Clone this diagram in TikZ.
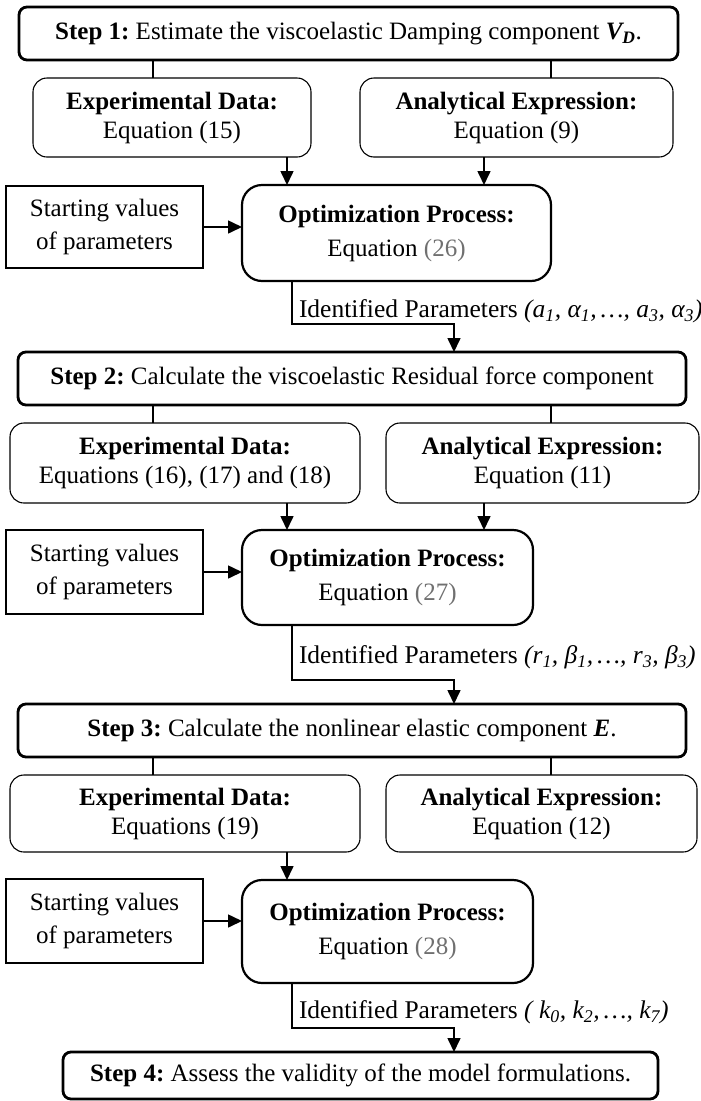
\documentclass[tikz,border=0pt]{standalone}
\usepackage{fontspec}
\setmainfont{Liberation Serif}
\usetikzlibrary{arrows.meta,calc}
\definecolor{eqgray}{RGB}{112,112,112}
\frenchspacing
\begin{document}
\begin{tikzpicture}[x=1pt,y=-1pt,
  every node/.style={font=\fontsize{25}{29}\selectfont, inner sep=0pt, outer sep=0pt},
  stepbox/.style={draw, line width=2.8pt, rounded corners=8pt},
  infobox/.style={draw, line width=1.1pt, rounded corners=14pt, align=center},
  optbox/.style={draw, line width=2.2pt, rounded corners=20pt, align=center},
  startbox/.style={draw, line width=1.8pt, align=center},
  paramlabel/.style={anchor=west, font=\fontsize{25.5}{29}\selectfont},
  link/.style={line width=1.6pt},
  arr/.style={line width=1.6pt, -{Triangle[length=14pt,width=13pt]}},
]
\useasboundingbox (0,0) rectangle (701,1101);

% column positions of the connectors
\coordinate (xs) at (153,0);
\coordinate (xa) at (551,0);
\coordinate (xl) at (287,0);
\coordinate (xr) at (484,0);

% ---------------- Step 1 ----------------
\node[stepbox, minimum width=659pt, minimum height=53pt] (s1) at (348.5,33.5)
  {\textbf{Step 1:} Estimate the viscoelastic Damping component \textbf{\textit{V\textsubscript{D}}}.};
\node[infobox, minimum width=278pt, minimum height=79pt] (e1) at (172,117.5)
  {\textbf{Experimental Data:}\\Equation (15)};
\node[infobox, minimum width=313pt, minimum height=79pt] (a1) at (516.5,117.5)
  {\textbf{Analytical Expression:}\\Equation (9)};
\node[startbox, minimum width=197pt, minimum height=82pt] (st1) at (104.5,227)
  {Starting values\\[4pt]of parameters};
\node[optbox, minimum width=309pt, minimum height=96pt] (o1) at (396.5,233)
  {\textbf{Optimization Process:}\\[5pt]Equation {\color{eqgray}(26)}};
\node[paramlabel] (p1) at (299,311)
  {Identified Parameters {\itshape (a\textsubscript{1}, α\textsubscript{1},\,…, a\textsubscript{3}, α\textsubscript{3})}};
\coordinate (k1) at (292,324);
\coordinate (t1) at (454,324);

% ---------------- Step 2 ----------------
\node[stepbox, minimum width=668pt, minimum height=53pt] (s2) at (352,378.5)
  {\textbf{Step 2:} Calculate the viscoelastic Residual force component};
\node[infobox, minimum width=350pt, minimum height=80pt] (e2) at (185,463)
  {\textbf{Experimental Data:}\\Equations (16), (17) and (18)};
\node[infobox, minimum width=313pt, minimum height=80pt] (a2) at (542.5,463)
  {\textbf{Analytical Expression:}\\Equation (11)};
\node[startbox, minimum width=197pt, minimum height=84pt] (st2) at (104.5,572)
  {Starting values\\[4pt]of parameters};
\node[optbox, minimum width=291pt, minimum height=95pt] (o2) at (387.5,577.5)
  {\textbf{Optimization Process:}\\[5pt]Equation {\color{eqgray}(27)}};
\node[paramlabel] (p2) at (299,657)
  {Identified Parameters {\itshape (r\textsubscript{1}, β\textsubscript{1},\,…, r\textsubscript{3}, β\textsubscript{3})}};
\coordinate (k2) at (292,680);
\coordinate (t2) at (454,680);

% ---------------- Step 3 ----------------
\node[stepbox, minimum width=668pt, minimum height=53pt] (s3) at (352,730.5)
  {\textbf{Step 3:} Calculate the nonlinear elastic component \textbf{\textit{E}}.};
\node[infobox, minimum width=350pt, minimum height=77pt] (e3) at (185,813.5)
  {\textbf{Experimental Data:}\\Equations (19)};
\node[infobox, minimum width=311pt, minimum height=77pt] (a3) at (541.5,813.5)
  {\textbf{Analytical Expression:}\\Equation (12)};
\node[startbox, minimum width=197pt, minimum height=84pt] (st3) at (104.5,921)
  {Starting values\\[4pt]of parameters};
\node[optbox, minimum width=291pt, minimum height=103pt] (o3) at (387.5,931.5)
  {\textbf{Optimization Process:}\\[5pt]Equation {\color{eqgray}(28)}};
\node[paramlabel] (p3) at (299,1012)
  {Identified Parameters {\itshape ( k\textsubscript{0}, k\textsubscript{2},\,…, k\textsubscript{7})}};
\coordinate (k3) at (292,1028);
\coordinate (t3) at (454,1028);

% ---------------- Step 4 ----------------
\node[stepbox, minimum width=595pt, minimum height=47pt] (s4) at (360.5,1075.5)
  {\textbf{Step 4:} Assess the validity of the model formulations.};

% ---------------- connectors ----------------
\foreach \s/\e/\a in {s1/e1/a1, s2/e2/a2, s3/e3/a3} {
  \draw[link] (\s.south -| xs) -- (\e.north -| xs);
  \draw[link] (\s.south -| xa) -- (\a.north -| xa);
}
\draw[arr] (e1.south -| xl) -- (o1.north -| xl);
\draw[arr] (a1.south -| xr) -- (o1.north -| xr);
\draw[arr] (e2.south -| xl) -- (o2.north -| xl);
\draw[arr] (a2.south -| xr) -- (o2.north -| xr);
\draw[arr] (e3.south -| xl) -- (o3.north -| xl);

\draw[arr] (st1.east) -- (st1.east -| o1.west);
\draw[arr] (st2.east) -- (st2.east -| o2.west);
\draw[arr] (st3.east) -- (st3.east -| o3.west);

\draw[arr] (o1.south -| k1) -- (k1) -- (t1) -- (t1 |- s2.north);
\draw[arr] (o2.south -| k2) -- (k2) -- (t2) -- (t2 |- s3.north);
\draw[arr] (o3.south -| k3) -- (k3) -- (t3) -- (t3 |- s4.north);
\end{tikzpicture}
\end{document}
